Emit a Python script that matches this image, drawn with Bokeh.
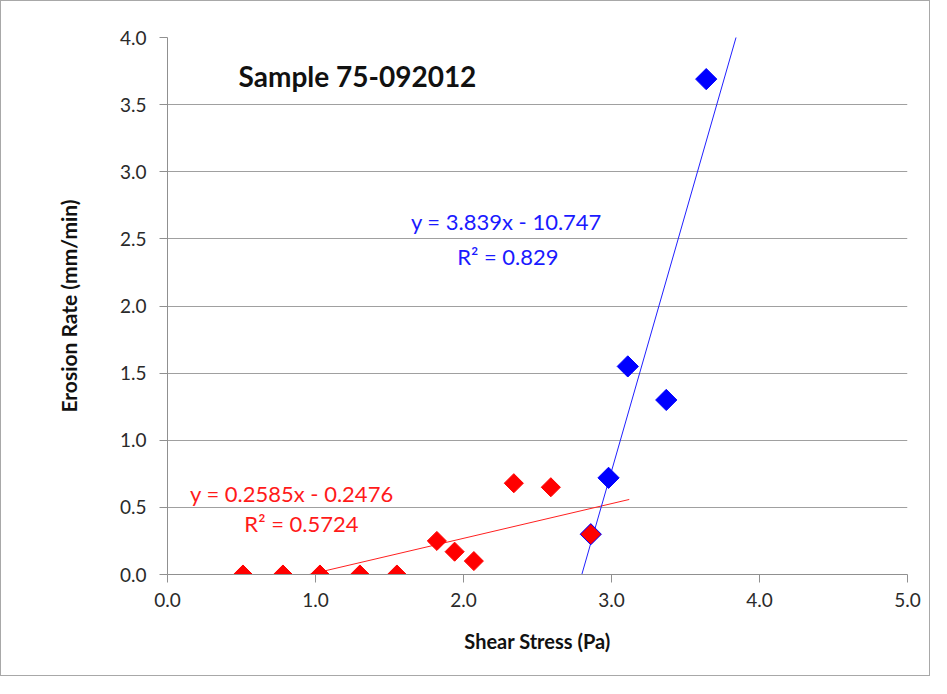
import numpy as np
from bokeh.plotting import figure
from bokeh.models import Range1d, PrintfTickFormatter, FixedTicker, Label
from bokeh.embed import file_html
from bokeh.resources import INLINE

# Data
red_x = [0.51, 0.78, 1.03, 1.30, 1.55, 1.82, 1.94, 2.07, 2.34, 2.59, 2.86]
red_y = [0.0, 0.0, 0.0, 0.0, 0.0, 0.25, 0.17, 0.10, 0.68, 0.65, 0.30]
blue_x = [2.86, 2.98, 3.11, 3.37, 3.64]
blue_y = [0.30, 0.72, 1.55, 1.30, 3.69]

red_fit = (0.2585, -0.2476)
blue_fit = (3.839, -10.747)
red_fit_x = [0.51, 3.12]
blue_fit_x = [2.80, 3.90]

x_ticks = [0.0, 1.0, 2.0, 3.0, 4.0, 5.0]
y_ticks = [0.0, 0.5, 1.0, 1.5, 2.0, 2.5, 3.0, 3.5, 4.0]

FONT = "Lato"

p = figure(width=930, height=676, output_backend="svg", toolbar_location=None,
           x_range=Range1d(0, 5), y_range=Range1d(0, 4),
           min_border_left=166, min_border_right=24, min_border_top=36, min_border_bottom=103)
p.outline_line_color = None
p.background_fill_color = "white"
p.border_fill_color = "white"
p.styles = {"border": "1px solid #a8a8a8"}

p.xgrid.grid_line_color = None
p.ygrid.grid_line_color = "#a0a0a0"
p.ygrid.grid_line_width = 1

for ax in (p.xaxis[0], p.yaxis[0]):
    ax.axis_line_color = "#909090"
    ax.major_tick_line_color = "#909090"
    ax.minor_tick_line_color = None
    ax.major_tick_in = 0
    ax.major_tick_out = 8
    ax.formatter = PrintfTickFormatter(format="%.1f")
    ax.major_label_text_font = FONT
    ax.major_label_text_font_size = "19px"
    ax.major_label_text_color = "#2a2a2a"
    ax.axis_label_text_font = FONT
    ax.axis_label_text_font_style = "bold"
    ax.axis_label_text_color = "#111111"

p.xaxis[0].axis_label_text_font_size = "20px"
p.yaxis[0].axis_label_text_font_size = "21px"
p.xaxis[0].ticker = FixedTicker(ticks=x_ticks)
p.yaxis[0].ticker = FixedTicker(ticks=y_ticks)
p.xaxis[0].axis_label = "Shear Stress (Pa)"
p.yaxis[0].axis_label = "Erosion Rate (mm/min)"
p.xaxis[0].major_label_standoff = 10
p.yaxis[0].major_label_standoff = 13
p.xaxis[0].axis_label_standoff = 19
p.yaxis[0].axis_label_standoff = 36

# Trend lines
rx = np.array(red_fit_x)
p.line(rx, red_fit[0] * rx + red_fit[1], line_color="#ff2020", line_width=1)
bx = np.array(blue_fit_x)
p.line(bx, blue_fit[0] * bx + blue_fit[1], line_color="#2020ff", line_width=1)

# Markers
p.scatter(blue_x, blue_y, marker="square", size=15, angle=np.pi / 4,
          fill_color="#0000ff", line_color="#0000ff", line_width=1)
p.scatter(red_x, red_y, marker="square", size=13.5, angle=np.pi / 4,
          fill_color="#ff0000", line_color="#ff0000", line_width=1)

# Annotations
p.add_layout(Label(x=0.48, y=3.71, text="Sample 75-092012", text_font=FONT,
                   text_font_style="bold", text_font_size="28px", text_color="#111111",
                   text_baseline="middle", text_align="left"))
p.add_layout(Label(x=2.29, y=2.63, text="y = 3.839x - 10.747", text_font=FONT,
                   text_font_size="22px", text_color="#1a1aff",
                   text_baseline="middle", text_align="center"))
p.add_layout(Label(x=2.30, y=2.37, text="R² = 0.829", text_font=FONT,
                   text_font_size="22px", text_color="#1a1aff",
                   text_baseline="middle", text_align="center"))
p.add_layout(Label(x=0.84, y=0.60, text="y = 0.2585x - 0.2476", text_font=FONT,
                   text_font_size="22px", text_color="#ff1a1a",
                   text_baseline="middle", text_align="center"))
p.add_layout(Label(x=0.905, y=0.38, text="R² = 0.5724", text_font=FONT,
                   text_font_size="22px", text_color="#ff1a1a",
                   text_baseline="middle", text_align="center"))

open("out.html", "w").write(file_html(p, INLINE))
